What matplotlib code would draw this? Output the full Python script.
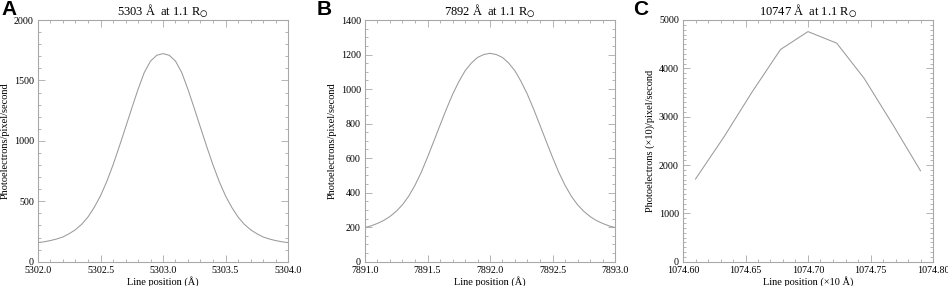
import numpy as np
import matplotlib
matplotlib.use("Agg")
import matplotlib.pyplot as plt
from matplotlib.ticker import MultipleLocator, FormatStrFormatter

plt.rcParams['font.family'] = ['Liberation Serif', 'DejaVu Serif']
plt.rcParams['mathtext.fontset'] = 'stix'

# panel A: 5303 line
x_a = np.linspace(5302.0, 5304.0, 41)
y_a = [158, 165, 175, 188, 205, 232, 265, 310, 370, 450, 545, 663, 800, 952, 1110,
       1270, 1425, 1565, 1660, 1708, 1722, 1708, 1660, 1565, 1425, 1270, 1110, 952,
       800, 663, 545, 450, 370, 310, 265, 232, 205, 188, 175, 165, 158]

# panel B: 7892 line
x_b = np.linspace(7891.0, 7893.0, 41)
y_b = [198, 208, 222, 239, 262, 292, 330, 380, 443, 518, 605, 697, 790, 882, 968,
       1042, 1105, 1150, 1183, 1200, 1207, 1200, 1183, 1150, 1105, 1042, 968, 882,
       790, 697, 605, 518, 443, 380, 330, 292, 262, 239, 222, 208, 198]

# panel C: 10747 line (x10 A)
x_c = [1074.610, 1074.633, 1074.655, 1074.678, 1074.700, 1074.723, 1074.745, 1074.768, 1074.790]
y_c = [1710, 2590, 3500, 4390, 4760, 4520, 3790, 2830, 1880]

gray = '#a8a8a8'
line_gray = '#9a9a9a'

fig = plt.figure(figsize=(9.48, 2.86), dpi=100)

panels = [
    dict(x=x_a, y=y_a, left=38, xlim=(5302.0, 5304.0), ylim=(0, 2000),
         xmaj=0.5, xmin=0.1, ymaj=500, ymin=100, xfmt='%.1f',
         title=r'5303 Å  at 1.1 R$_{\bigcirc}$', letter='A', lx=1,
         xlabel='Line position (Å)', ylabel='Photoelectrons/pixel/second'),
    dict(x=x_b, y=y_b, left=365, xlim=(7891.0, 7893.0), ylim=(0, 1400),
         xmaj=0.5, xmin=0.1, ymaj=200, ymin=50, xfmt='%.1f',
         title=r'7892 Å  at 1.1 R$_{\bigcirc}$', letter='B', lx=317,
         xlabel='Line position (Å)', ylabel='Photoelectrons/pixel/second'),
    dict(x=x_c, y=y_c, left=683, xlim=(1074.60, 1074.80), ylim=(0, 5000),
         xmaj=0.05, xmin=0.01, ymaj=1000, ymin=100, xfmt='%.2f',
         title=r'10747 Å  at 1.1 R$_{\bigcirc}$', letter='C', lx=633,
         xlabel='Line position (×10 Å)', ylabel='Photoelectrons (×10)/pixel/second'),
]

W, H = 948.0, 286.0
for p in panels:
    ax = fig.add_axes([p['left'] / W, 1 - 261.7 / H, 250 / W, 241.7 / H])
    ax.plot(p['x'], p['y'], color=line_gray, lw=0.75)
    ax.set_xlim(*p['xlim'])
    ax.set_ylim(*p['ylim'])
    ax.xaxis.set_major_locator(MultipleLocator(p['xmaj']))
    ax.xaxis.set_minor_locator(MultipleLocator(p['xmin']))
    ax.yaxis.set_major_locator(MultipleLocator(p['ymaj']))
    ax.yaxis.set_minor_locator(MultipleLocator(p['ymin']))
    ax.xaxis.set_major_formatter(FormatStrFormatter(p['xfmt']))
    ax.tick_params(which='both', direction='in', top=True, right=True,
                   color=gray, labelsize=7.2, width=0.6)
    ax.tick_params(which='major', length=5, pad=3)
    ax.tick_params(which='minor', length=2.5)
    for s in ax.spines.values():
        s.set_color(gray)
        s.set_linewidth(0.8)
    ax.set_title(p['title'], fontsize=9, pad=3)
    ax.set_xlabel(p['xlabel'], fontsize=7.5, labelpad=1)
    ax.set_ylabel(p['ylabel'], fontsize=7.5, labelpad=3)
    fig.text(p['lx'] / W, 1, p['letter'], fontsize=15, fontweight='bold',
             family='Liberation Sans', ha='left', va='top')

fig.savefig('out.png', dpi=100)
